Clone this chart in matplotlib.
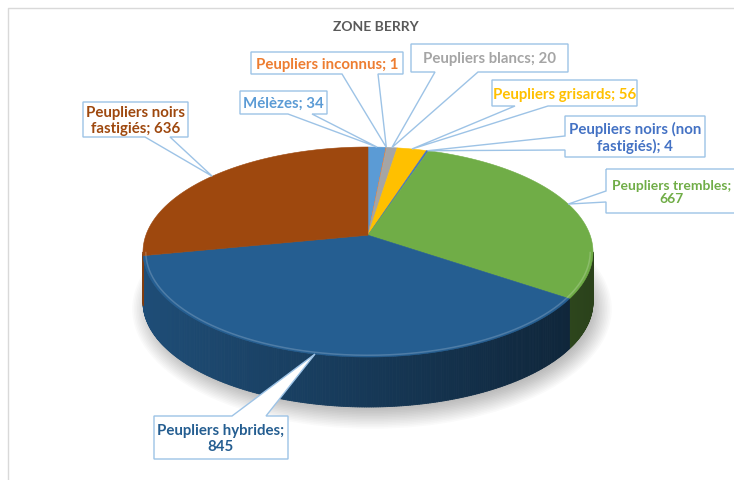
import numpy as np
import matplotlib
matplotlib.use("Agg")
import matplotlib.pyplot as plt
from matplotlib.patches import Polygon, Ellipse
from matplotlib.collections import PolyCollection
import matplotlib.colors as mcolors

# ---------------- data ----------------
title = "ZONE BERRY"
categories = ["Mélèzes", "Peupliers inconnus", "Peupliers blancs", "Peupliers grisards",
              "Peupliers noirs (non fastigiés)", "Peupliers trembles",
              "Peupliers hybrides", "Peupliers noirs fastigiés"]
values = [34, 1, 20, 56, 4, 667, 845, 636]
colors = ["#5B9BD5", "#ED7D31", "#A5A5A5", "#FFC000", "#4472C4", "#70AD47",
          "#255E91", "#9E480E"]
# number of words on the first line of each label (None = single line)
wrap_after = [None, None, None, None, 3, 2, 2, 2]

# ---------------- layout (pixel space) ----------------
W, H = 734, 481
cx, cy, rx, ry = 368.0, 253.0, 225.0, 105.0   # top ellipse
depth = 50.0
tt = 0.16                                     # perspective shift of pie centre
t = np.arctanh(tt)
ch, sh = np.cosh(t), np.sinh(t)

# callout boxes: (x0, y0, x1, y1, edge, base_a, base_b)
boxes = [
    (240, 92, 327, 115, "bottom", 288, 312),
    (251, 53, 403, 75, "bottom", 342, 378),
    (411, 45, 568, 73, "bottom", 435, 478),
    (492, 81, 637, 107, "bottom", 515, 548),
    (565, 117, 705, 158, "left", 137, 151),
    (606, 170, 742, 214, "left", 192, 203),
    (154, 417, 288, 460, "top", 232, 266),
    (83, 103, 188, 138, "bottom", 145, 170),
]
# text centre x (None = box centre) and font size per label
text_x = [None, None, None, None, None, 672, None, None]
text_size = [10.8, 10.8, 10.8, 10.8, 10.8, 10.0, 10.8, 10.8]

FONT = ["Lato", "DejaVu Sans"]


def proj(theta, r=1.0):
    """theta: clockwise angle from 12 o'clock (radians)."""
    u = r * np.sin(theta)
    v = r * np.cos(theta)
    den = v * sh + ch
    xn = u / den
    yn = (v * ch + sh) / den
    return cx + rx * xn, cy - ry * yn


def shade(c, f):
    rgb = np.array(mcolors.to_rgb(c))
    return tuple(np.clip(rgb * f, 0, 1))


def lighten(c, f):
    rgb = np.array(mcolors.to_rgb(c))
    return tuple(np.clip(rgb + (1 - rgb) * f, 0, 1))


fig = plt.figure(figsize=(W / 100, H / 100), dpi=100)
ax = fig.add_axes([0, 0, 1, 1])
ax.set_xlim(0, W)
ax.set_ylim(H, 0)
ax.axis("off")

# chart frame
ax.plot([8, 8, W], [H, 9, 9], color="#D9D9D9", lw=1.0, zorder=0)

ax.text(376, 27, title, ha="center", va="center", fontsize=10, fontweight="bold",
        color="#595959", family=FONT)

total = float(sum(values))
edges = np.concatenate([[0], np.cumsum(values)]) / total * 2 * np.pi

# soft shadow
for k in range(14):
    e = 2 + k * 1.6
    ax.add_patch(Ellipse((cx + 4, cy + depth + 7), 2 * (rx + e - 8), 2 * (ry + e - 8),
                         facecolor="#000000", edgecolor="none", alpha=0.018, zorder=1))

# side walls (front half only)
f0 = np.arccos(-tt)
f1 = 2 * np.pi - f0
polys, fcols = [], []
for i in range(len(values)):
    a, b = max(edges[i], f0), min(edges[i + 1], f1)
    if b <= a:
        continue
    n = max(2, int(np.degrees(b - a) * 2))
    th = np.linspace(a, b, n)
    xs, ys = proj(th)
    for j in range(n - 1):
        q = [(xs[j], ys[j]), (xs[j + 1], ys[j + 1]),
             (xs[j + 1], ys[j + 1] + depth), (xs[j], ys[j] + depth)]
        xm = 0.5 * (xs[j] + xs[j + 1])
        f = 0.82 - 0.44 * (xm - (cx - rx)) / (2 * rx)
        polys.append(q)
        fcols.append(shade(colors[i], f))
ax.add_collection(PolyCollection(polys, facecolors=fcols, edgecolors=fcols,
                                 linewidths=0.6, zorder=2))

# top faces
pc = proj(0.0, 0.0)
for i in range(len(values)):
    n = max(3, int(np.degrees(edges[i + 1] - edges[i]) * 2))
    th = np.linspace(edges[i], edges[i + 1], n)
    xs, ys = proj(th)
    pts = [pc] + list(zip(xs, ys))
    ax.add_patch(Polygon(pts, closed=True, facecolor=colors[i], edgecolor=colors[i],
                         lw=0.4, zorder=3))
    # bevel highlight along the front edge
    a, b = max(edges[i], f0), min(edges[i + 1], f1)
    if b > a:
        th2 = np.linspace(a, b, max(2, int(np.degrees(b - a) * 2)))
        hx, hy = proj(th2, 0.988)
        ax.plot(hx, hy, color=lighten(colors[i], 0.35), lw=1.1, alpha=0.55,
                zorder=4, solid_capstyle="butt")

# callouts
mids = 0.5 * (edges[:-1] + edges[1:])
shapes = []
for i, (x0, y0, x1, y1, edge, pa, pb) in enumerate(boxes):
    tx, ty = proj(mids[i])
    if edge == "bottom":
        pts = [(x0, y0), (x1, y0), (x1, y1), (pb, y1), (tx, ty), (pa, y1), (x0, y1)]
    elif edge == "top":
        pts = [(x0, y0), (pa, y0), (tx, ty), (pb, y0), (x1, y0), (x1, y1), (x0, y1)]
    else:
        pts = [(x0, y0), (x1, y0), (x1, y1), (x0, y1), (x0, pb), (tx, ty), (x0, pa)]
    shapes.append(pts)
for pts in shapes:
    ax.add_patch(Polygon(pts, closed=True, facecolor="white", edgecolor="none", zorder=5))
for pts in shapes:
    ax.add_patch(Polygon(pts, closed=True, facecolor="none", edgecolor="#9DC3E6",
                         lw=1.0, zorder=6))

for i, (x0, y0, x1, y1, edge, pa, pb) in enumerate(boxes):
    txt = f"{categories[i]}; {values[i]}"
    k = wrap_after[i]
    if k is not None:
        w = txt.split(" ")
        txt = " ".join(w[:k]) + "\n" + " ".join(w[k:])
    xt = (x0 + x1) / 2 if text_x[i] is None else text_x[i]
    ax.text(xt, (y0 + y1) / 2 + 0.5, txt, ha="center",
            va="center", fontsize=text_size[i], fontweight="bold", color=colors[i],
            family=FONT, linespacing=1.1, zorder=7)

fig.savefig("out.png", dpi=100)
